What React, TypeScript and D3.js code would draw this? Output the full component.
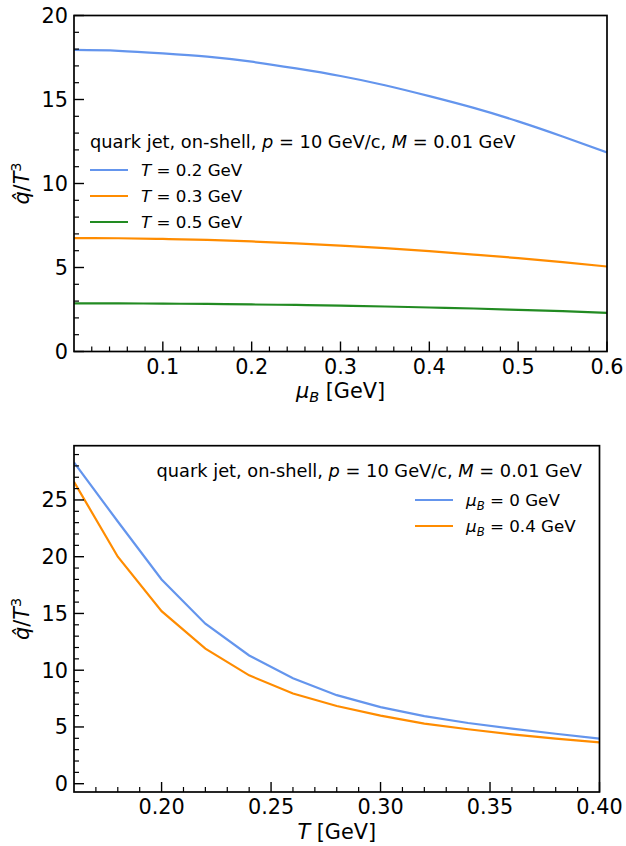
import React from "react";
import * as d3 from "d3";

// Upper panel: q̂/T³ versus baryon chemical potential at fixed temperature
const muB = [0, 0.05, 0.1, 0.15, 0.2, 0.25, 0.3, 0.35, 0.4, 0.45, 0.5, 0.55, 0.6];
const qT02 = [17.95, 17.9, 17.75, 17.55, 17.25, 16.85, 16.4, 15.85, 15.2, 14.5, 13.7, 12.8, 11.85];
const qT03 = [6.75, 6.74, 6.7, 6.64, 6.55, 6.44, 6.3, 6.15, 5.97, 5.77, 5.56, 5.32, 5.06];
const qT05 = [2.86, 2.86, 2.85, 2.83, 2.8, 2.77, 2.73, 2.68, 2.62, 2.56, 2.48, 2.4, 2.3];

// Lower panel: q̂/T³ versus temperature at fixed chemical potential
const temps = [0.16, 0.18, 0.2, 0.22, 0.24, 0.26, 0.28, 0.3, 0.32, 0.34, 0.36, 0.38, 0.4];
const qMu0 = [28.3, 23.1, 18.0, 14.1, 11.3, 9.3, 7.8, 6.75, 5.95, 5.35, 4.85, 4.4, 3.98];
const qMu04 = [26.6, 20.0, 15.2, 11.9, 9.55, 7.95, 6.85, 6.0, 5.3, 4.8, 4.35, 3.98, 3.65];

const topXTicks = [0.1, 0.2, 0.3, 0.4, 0.5, 0.6];
const topYTicks = [0, 5, 10, 15, 20];
const botXTicks = [0.2, 0.25, 0.3, 0.35, 0.4];
const botYTicks = [0, 5, 10, 15, 20, 25];

const BLUE = "#6495ED";
const ORANGE = "#FF8C00";
const GREEN = "#228B22";
const FONT = "DejaVu Sans";

type Series = { xs: number[]; ys: number[]; color: string };

function Panel(props: {
  left: number; right: number; top: number; bottom: number;
  xDomain: [number, number]; yDomain: [number, number];
  xTicks: number[]; yTicks: number[]; xMinor: number[]; yMinor: number[];
  xFmt: (v: number) => string;
  series: Series[]; curve: d3.CurveFactory;
  xLabel: React.ReactNode;
  tickPad: number; labelPad: number;
  children?: React.ReactNode;
}) {
  const { left, right, top, bottom } = props;
  const x = d3.scaleLinear().domain(props.xDomain).range([left, right]);
  const y = d3.scaleLinear().domain(props.yDomain).range([bottom, top]);
  const clipId = `clip-${Math.round(top)}`;
  return (
    <g>
      <defs>
        <clipPath id={clipId}>
          <rect x={left} y={top} width={right - left} height={bottom - top} />
        </clipPath>
      </defs>
      <g clipPath={`url(#${clipId})`}>
        {props.series.map((s, i) => {
          const line = d3
            .line<number>()
            .x((_, j) => x(s.xs[j]))
            .y((v) => y(v))
            .curve(props.curve);
          return <path key={i} d={line(s.ys) || ""} fill="none" stroke={s.color} strokeWidth={2.2} />;
        })}
      </g>
      {/* minor ticks, pointing inward */}
      {props.xMinor.map((v, i) => (
        <line key={`xm${i}`} x1={x(v)} x2={x(v)} y1={bottom} y2={bottom - 5} stroke="#000" strokeWidth={1.2} />
      ))}
      {props.yMinor.map((v, i) => (
        <line key={`ym${i}`} x1={left} x2={left + 5} y1={y(v)} y2={y(v)} stroke="#000" strokeWidth={1.2} />
      ))}
      {props.xTicks.map((v, i) => (
        <g key={`xt${i}`}>
          <line x1={x(v)} x2={x(v)} y1={bottom} y2={bottom - 10} stroke="#000" strokeWidth={1.4} />
          <text x={x(v)} y={bottom + props.tickPad} textAnchor="middle" fontSize={20.8} fontFamily={FONT}>
            {props.xFmt(v)}
          </text>
        </g>
      ))}
      {props.yTicks.map((v, i) => (
        <g key={`yt${i}`}>
          <line x1={left} x2={left + 10} y1={y(v)} y2={y(v)} stroke="#000" strokeWidth={1.4} />
          <text x={left - 6} y={y(v) + 7.5} textAnchor="end" fontSize={20.8} fontFamily={FONT}>
            {v}
          </text>
        </g>
      ))}
      <rect x={left} y={top} width={right - left} height={bottom - top} fill="none" stroke="#000" strokeWidth={1.7} />
      <text
        transform={`translate(29,${(top + bottom) / 2}) rotate(-90)`}
        textAnchor="middle"
        fontSize={20.8}
        fontFamily={FONT}
      >
        <tspan fontStyle="italic">q̂</tspan>
        <tspan>/</tspan>
        <tspan fontStyle="italic">T</tspan>
        <tspan fontSize={14.5} dy={-8}>3</tspan>
      </text>
      <text x={(left + right) / 2} y={bottom + props.labelPad} textAnchor="middle" fontSize={20.8} fontFamily={FONT}>
        {props.xLabel}
      </text>
      {props.children}
    </g>
  );
}

function Title(props: { x: number; y: number; anchor: "start" | "end" }) {
  return (
    <text x={props.x} y={props.y} textAnchor={props.anchor} fontSize={17.8} fontFamily={FONT}>
      quark jet, on-shell, <tspan fontStyle="italic">p</tspan> = 10 GeV/c, <tspan fontStyle="italic">M</tspan> = 0.01 GeV
    </text>
  );
}

function range(a: number, b: number, step: number, skip: number[]) {
  const out: number[] = [];
  for (let v = a; v <= b + 1e-9; v += step) {
    const r = Math.round(v * 1000) / 1000;
    if (!skip.some((s) => Math.abs(s - r) < 1e-6)) out.push(r);
  }
  return out;
}

export default function App() {
  const topLegend = [
    { label: "0.2", color: BLUE },
    { label: "0.3", color: ORANGE },
    { label: "0.5", color: GREEN },
  ];
  const botLegend = [
    { label: "0", color: BLUE },
    { label: "0.4", color: ORANGE },
  ];
  return (
    <svg width={626} height={846} style={{ position: "absolute", left: 0, top: 0, background: "#fff" }}>
      <Panel
        left={74} right={607} top={15.5} bottom={351.5}
        xDomain={[0, 0.6]} yDomain={[0, 20]}
        xTicks={topXTicks} yTicks={topYTicks}
        xMinor={range(0.02, 0.58, 0.02, topXTicks)}
        yMinor={range(1, 19, 1, topYTicks)}
        xFmt={(v) => v.toFixed(1)}
        series={[
          { xs: muB, ys: qT02, color: BLUE },
          { xs: muB, ys: qT03, color: ORANGE },
          { xs: muB, ys: qT05, color: GREEN },
        ]}
        curve={d3.curveNatural}
        tickPad={22}
        labelPad={46}
        xLabel={
          <>
            <tspan fontStyle="italic">μ</tspan>
            <tspan fontStyle="italic" fontSize={14.5} dy={4}>B</tspan>
            <tspan dy={-4}> [GeV]</tspan>
          </>
        }
      >
        <Title x={90} y={148} anchor="start" />
        {topLegend.map((d, i) => (
          <g key={i}>
            <line x1={90} x2={128} y1={170 + i * 26} y2={170 + i * 26} stroke={d.color} strokeWidth={2.2} />
            <text x={141} y={176 + i * 26} fontSize={16.7} fontFamily={FONT}>
              <tspan fontStyle="italic">T</tspan> = {d.label} GeV
            </text>
          </g>
        ))}
      </Panel>
      <Panel
        left={74} right={599.5} top={445.7} bottom={792}
        xDomain={[0.16, 0.4]} yDomain={[-0.73, 29.78]}
        xTicks={botXTicks} yTicks={botYTicks}
        xMinor={range(0.17, 0.39, 0.01, botXTicks)}
        yMinor={range(1, 29, 1, botYTicks)}
        xFmt={(v) => v.toFixed(2)}
        series={[
          { xs: temps, ys: qMu0, color: BLUE },
          { xs: temps, ys: qMu04, color: ORANGE },
        ]}
        curve={d3.curveLinear}
        tickPad={21.5}
        labelPad={47}
        xLabel={
          <>
            <tspan fontStyle="italic">T</tspan> [GeV]
          </>
        }
      >
        <Title x={582} y={477} anchor="end" />
        {botLegend.map((d, i) => (
          <g key={i}>
            <line x1={415} x2={453} y1={500 + i * 26} y2={500 + i * 26} stroke={d.color} strokeWidth={2.2} />
            <text x={466} y={506 + i * 26} fontSize={16.7} fontFamily={FONT}>
              <tspan fontStyle="italic">μ</tspan>
              <tspan fontStyle="italic" fontSize={11.7} dy={3.5}>B</tspan>
              <tspan dy={-3.5}> = {d.label} GeV</tspan>
            </text>
          </g>
        ))}
      </Panel>
    </svg>
  );
}
